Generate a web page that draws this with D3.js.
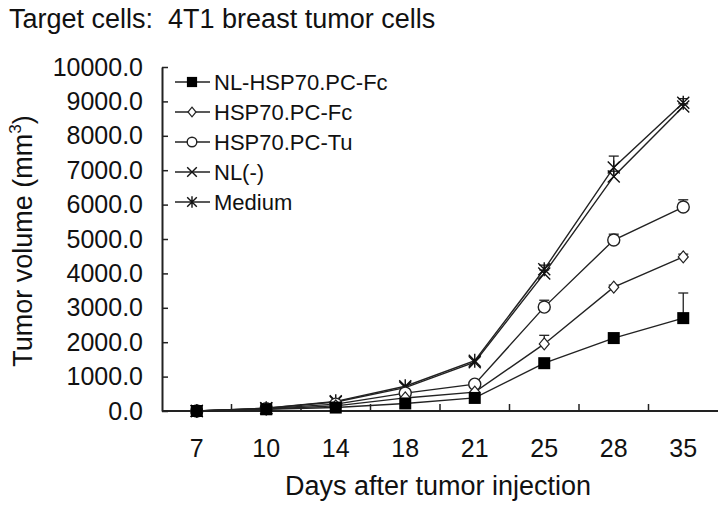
<!DOCTYPE html>
<html><head><meta charset="utf-8">
<script src="https://cdn.jsdelivr.net/npm/d3@7"></script>
<style>body{margin:0;background:#fff;} svg{display:block;font-family:"Liberation Sans",Arial,sans-serif;}</style>
</head><body>
<svg id="c" width="724" height="507"></svg>
<script>
const days = ["7","10","14","18","21","25","28","35"];
const yTicks = [0,1000,2000,3000,4000,5000,6000,7000,8000,9000,10000];
const seriesNames = ["NL-HSP70.PC-Fc","HSP70.PC-Fc","HSP70.PC-Tu","NL(-)","Medium"];
const nlHspFc = [0, 50, 100, 220, 380, 1390, 2120, 2700];
const hspFc   = [0, 60, 150, 380, 550, 1950, 3600, 4480];
const hspTu   = [0, 70, 200, 520, 780, 3020, 4970, 5930];
const nlNeg   = [0, 80, 260, 680, 1420, 4000, 6820, 8850];
const medium  = [0, 80, 280, 720, 1460, 4120, 7080, 8960];
const errNlHspFc = [0, 0, 0, 0, 0, 0, 0, 730];
const errHspFc   = [0, 0, 0, 0, 0, 250, 60, 80];
const errHspTu   = [0, 0, 0, 0, 0, 200, 170, 210];
const errNlNeg   = [0, 0, 0, 0, 0, 100, 150, 80];
const errMedium  = [0, 0, 0, 0, 0, 120, 330, 120];
const symbols = ["square","diamond","circle","x","star"];

const values = [nlHspFc, hspFc, hspTu, nlNeg, medium];
const errs = [errNlHspFc, errHspFc, errHspTu, errNlNeg, errMedium];

const svg = d3.select("#c");
const L = 162, R = 718, T = 67, B = 411;
const x = d3.scaleBand().domain(days).range([L, R]);
const y = d3.scaleLinear().domain([0, 10000]).range([B, T]);

svg.append("text").attr("x", 9).attr("y", 28).attr("font-size", 27).attr("fill","#111")
  .text("Target cells:\u00a0\u00a04T1 breast tumor cells");

// y axis (ticks point inward)
const ya = svg.append("g").attr("transform", `translate(${L},0)`)
  .call(d3.axisLeft(y).tickValues(yTicks).tickFormat(d3.format(".1f")).tickSizeInner(-6).tickSizeOuter(0).tickPadding(19));
ya.select(".domain").attr("stroke","#222").attr("stroke-width",2);
ya.selectAll(".tick line").attr("stroke","#222").attr("stroke-width",1.5);
ya.selectAll("text").attr("font-size", 25).attr("fill","#111").attr("font-family","Liberation Sans, Arial, sans-serif");

// x axis: ticks at band boundaries, pointing inward
const xa = svg.append("g").attr("transform", `translate(0,${B})`);
xa.append("line").attr("x1", L).attr("x2", R).attr("stroke","#222").attr("stroke-width",2);
const bounds = days.slice(1).map(d => x(d));
xa.selectAll("line.tk").data(bounds).enter().append("line").attr("class","tk")
  .attr("x1", d => d).attr("x2", d => d).attr("y1", 0).attr("y2", -7).attr("stroke","#222").attr("stroke-width",1.5);
xa.selectAll("text").data(days).enter().append("text")
  .attr("x", d => x(d) + x.bandwidth()/2).attr("y", 46).attr("text-anchor","middle")
  .attr("font-size", 25).attr("fill","#111").text(d => d);

svg.append("text").attr("x", 438).attr("y", 495).attr("text-anchor","middle")
  .attr("font-size", 27).attr("fill","#111").text("Days after tumor injection");

const yt = svg.append("text").attr("transform", `translate(32,241) rotate(-90)`)
  .attr("text-anchor","middle").attr("font-size", 27).attr("fill","#111");
yt.append("tspan").text("Tumor volume (mm");
yt.append("tspan").attr("font-size", 17).attr("dy", -11).text("3");
yt.append("tspan").attr("dy", 11).text(")");

const cx = d => x(d) + x.bandwidth()/2;

function drawMarker(g, type, px, py, s) {
  s = s || 1;
  if (type === "square") {
    g.append("rect").attr("x", px-6*s).attr("y", py-6*s).attr("width", 12*s).attr("height", 12*s).attr("fill","#000");
  } else if (type === "diamond") {
    g.append("path").attr("d", `M${px},${py-6*s}L${px+5*s},${py}L${px},${py+6*s}L${px-5*s},${py}Z`)
      .attr("fill","#fff").attr("stroke","#222").attr("stroke-width",1.2);
  } else if (type === "circle") {
    g.append("circle").attr("cx", px).attr("cy", py).attr("r", 6*s).attr("fill","#fff").attr("stroke","#222").attr("stroke-width",1.4);
  } else if (type === "x") {
    const r = 6*s;
    g.append("path").attr("d", `M${px-r},${py-r}L${px+r},${py+r}M${px-r},${py+r}L${px+r},${py-r}`)
      .attr("stroke","#111").attr("stroke-width",1.4);
  } else if (type === "star") {
    const r = 6*s;
    g.append("path").attr("d", `M${px-r},${py-r}L${px+r},${py+r}M${px-r},${py+r}L${px+r},${py-r}M${px},${py-r-1}L${px},${py+r+1}`)
      .attr("stroke","#111").attr("stroke-width",1.4);
  }
}

const line = d3.line().x((d,i) => cx(days[i])).y(d => y(d));
const plot = svg.append("g");
for (let k = values.length - 1; k >= 0; k--) {
  const g = plot.append("g");
  g.append("path").datum(values[k]).attr("d", line).attr("fill","none").attr("stroke","#222").attr("stroke-width",1.4);
  values[k].forEach((v, i) => {
    const e = errs[k][i];
    if (e > 0) {
      const px = cx(days[i]);
      g.append("line").attr("x1",px).attr("x2",px).attr("y1",y(v)).attr("y2",y(v+e)).attr("stroke","#222").attr("stroke-width",1.3);
      g.append("line").attr("x1",px-5).attr("x2",px+5).attr("y1",y(v+e)).attr("y2",y(v+e)).attr("stroke","#222").attr("stroke-width",1.3);
    }
  });
}
for (let k = values.length - 1; k >= 0; k--) {
  const g = plot.append("g");
  values[k].forEach((v, i) => drawMarker(g, symbols[k], cx(days[i]), y(v)));
}

// legend
const lg = svg.append("g");
seriesNames.forEach((n, k) => {
  const ly = 82 + k * 30;
  lg.append("line").attr("x1", 175).attr("x2", 210).attr("y1", ly).attr("y2", ly).attr("stroke","#222").attr("stroke-width",1.4);
  drawMarker(lg, symbols[k], 192, ly, k === 0 ? 0.85 : 0.8);
  lg.append("text").attr("x", 214).attr("y", ly + 8).attr("font-size", 22).attr("fill","#111").text(n);
});
</script>
</body></html>
